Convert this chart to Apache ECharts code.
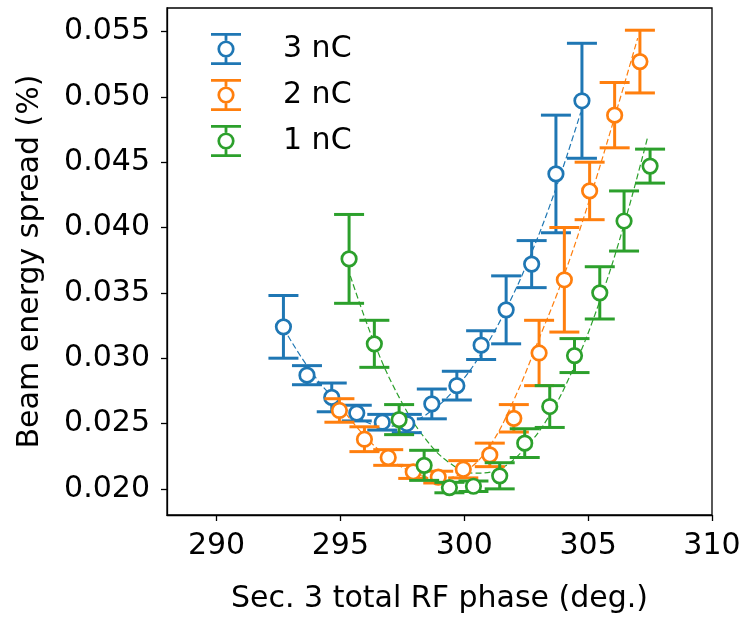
<!DOCTYPE html>
<html>
<head>
<meta charset="utf-8">
<script src="https://cdn.jsdelivr.net/npm/echarts@6/dist/echarts.min.js"></script>
<style>
html,body{margin:0;padding:0;background:#fff;}
#chart{width:748px;height:619px;}
</style>
</head>
<body>
<div id="chart"></div>
<script>
// ---- data ----
const seriesNames = ['3 nC', '2 nC', '1 nC'];
const colors = ['#1f77b4', '#ff7f0e', '#2ca02c'];

const blueX   = [292.7, 293.65, 294.65, 295.66, 296.69, 297.68, 298.69, 299.70, 300.68, 301.69, 302.72, 303.70, 304.75];
const blueY   = [0.0324, 0.0287, 0.0270, 0.0258, 0.0251, 0.0250, 0.0265, 0.0279, 0.0310, 0.0337, 0.0372, 0.0441, 0.0497];
const blueErr = [0.0024, 0.00073, 0.0011, 0.0006, 0.0006, 0.0007, 0.00114, 0.0011, 0.0011, 0.0026, 0.0018, 0.0045, 0.0044];

const orangeX   = [294.96, 295.97, 296.93, 297.94, 298.95, 299.96, 301.03, 302.0, 303.02, 304.04, 305.06, 306.07, 307.09];
const orangeY   = [0.0260, 0.0238, 0.0224, 0.0213, 0.0209, 0.0215, 0.0226, 0.0254, 0.0304, 0.0360, 0.0428, 0.0486, 0.0527];
const orangeErr = [0.0009, 0.00095, 0.0006, 0.0005, 0.00045, 0.00066, 0.0009, 0.00105, 0.0025, 0.0040, 0.0022, 0.0025, 0.0024];

const greenX   = [295.35, 296.37, 297.37, 298.38, 299.40, 300.37, 301.43, 302.44, 303.45, 304.45, 305.47, 306.45, 307.5];
const greenY   = [0.0376, 0.0311, 0.0253, 0.0218, 0.0201, 0.0202, 0.0210, 0.0235, 0.0263, 0.0302, 0.0350, 0.0405, 0.0447];
const greenErr = [0.0034, 0.0018, 0.00115, 0.00115, 0.0004, 0.0004, 0.0010, 0.0011, 0.0016, 0.0013, 0.0020, 0.0023, 0.0013];

// dashed fit curves
const blueFitX   = [292.7, 293.7, 294.7, 295.7, 296.7, 297.7, 298.7, 299.7, 300.7, 301.7, 302.7, 303.7, 304.7];
const blueFitY   = [0.0323, 0.0293, 0.0270, 0.0255, 0.0248, 0.0250, 0.0260, 0.0278, 0.0304, 0.0338, 0.0380, 0.0430, 0.0488];
const orangeFitX = [295, 296, 297, 298, 299, 300, 301, 302, 303, 304, 305, 306, 307];
const orangeFitY = [0.0263, 0.0240, 0.0223, 0.0212, 0.0208, 0.0213, 0.0232, 0.0268, 0.0314, 0.0362, 0.0418, 0.0480, 0.0545];
const greenFitX  = [295.4, 296.4, 297.4, 298.4, 299.4, 300.4, 301.4, 302.4, 303.4, 304.4, 305.4, 306.4, 307.4];
const greenFitY  = [0.0363, 0.0310, 0.0269, 0.0239, 0.0220, 0.0212, 0.0215, 0.0230, 0.0255, 0.0292, 0.0340, 0.0399, 0.0469];

const xTicks = [290, 295, 300, 305, 310];
const yTicks = [0.020, 0.025, 0.030, 0.035, 0.040, 0.045, 0.050, 0.055];

// ---- chart ----
const FONT = 'DejaVu Sans';
const FS = 30;
const groups = [
  {name: seriesNames[0], color: colors[0], x: blueX, y: blueY, e: blueErr, fx: blueFitX, fy: blueFitY},
  {name: seriesNames[1], color: colors[1], x: orangeX, y: orangeY, e: orangeErr, fx: orangeFitX, fy: orangeFitY},
  {name: seriesNames[2], color: colors[2], x: greenX, y: greenY, e: greenErr, fx: greenFitX, fy: greenFitY}
];

const CAP = 15, LW = 3;
function errRender(color) {
  return function (params, api) {
    const x = api.value(0), lo = api.value(1), hi = api.value(2);
    const pLo = api.coord([x, lo]);
    const pHi = api.coord([x, hi]);
    const st = {stroke: color, lineWidth: LW};
    return {
      type: 'group',
      children: [
        {type: 'line', shape: {x1: pLo[0], y1: pLo[1], x2: pHi[0], y2: pHi[1]}, style: st},
        {type: 'line', shape: {x1: pLo[0] - CAP, y1: pLo[1], x2: pLo[0] + CAP, y2: pLo[1]}, style: st},
        {type: 'line', shape: {x1: pHi[0] - CAP, y1: pHi[1], x2: pHi[0] + CAP, y2: pHi[1]}, style: st}
      ]
    };
  };
}

const series = [];
groups.forEach(function (g, i) {
  series.push({
    name: g.name + ' fit',
    type: 'line',
    data: g.fx.map(function (v, k) { return [v, g.fy[k]]; }),
    showSymbol: false,
    smooth: 0.4,
    lineStyle: {color: g.color, width: 1.2, type: [6, 3]},
    z: 5,
    silent: true
  });
});
groups.forEach(function (g, i) {
  series.push({
    name: g.name + ' err',
    type: 'custom',
    renderItem: errRender(g.color),
    encode: {x: 0, y: [1, 2]},
    data: g.x.map(function (v, k) { return [v, g.y[k] - g.e[k], g.y[k] + g.e[k]]; }),
    z: 10 + 2 * i,
    silent: true
  });
  series.push({
    name: g.name,
    type: 'scatter',
    data: g.x.map(function (v, k) { return [v, g.y[k]]; }),
    symbol: 'circle',
    symbolSize: 14.5,
    itemStyle: {color: '#ffffff', borderColor: g.color, borderWidth: 2.7, opacity: 1},
    z: 11 + 2 * i,
    silent: true
  });
});

// legend icon: errorbar glyph (caps, stems, hollow circle)
const iconPath = 'path://M0 0H30V2.8H0Z M0 29.2H30V32H0Z M13.6 2.8H16.4V7.5H13.6Z M13.6 24.5H16.4V29.2H13.6Z ' +
  'M6.4 16A8.6 8.6 0 1 0 23.6 16A8.6 8.6 0 1 0 6.4 16Z M9.1 16A5.9 5.9 0 1 1 20.9 16A5.9 5.9 0 1 1 9.1 16Z';

const option = {
  animation: false,
  backgroundColor: '#ffffff',
  textStyle: {fontFamily: FONT},
  grid: {left: 167, top: 8, right: 36, bottom: 100, show: true, borderColor: '#000', borderWidth: 1.3, backgroundColor: 'transparent'},
  legend: {
    left: 206, top: 28, orient: 'vertical',
    itemWidth: 30, itemHeight: 32, itemGap: 14,
    icon: iconPath,
    data: groups.map(function (g) {
      return {name: g.name, itemStyle: {color: g.color, borderWidth: 0}};
    }),
    textStyle: {fontFamily: FONT, fontSize: FS, color: '#000', padding: [0, 0, 0, 37]},
    selectedMode: false
  },
  xAxis: {
    type: 'value', min: 288, max: 310,
    name: 'Sec. 3 total RF phase (deg.)', nameLocation: 'middle', nameGap: 69,
    nameTextStyle: {fontFamily: FONT, fontSize: FS, color: '#000'},
    axisLine: {show: true, lineStyle: {color: '#000', width: 1.3}},
    axisTick: {show: true, inside: false, length: 6, lineStyle: {color: '#000', width: 1.3}, customValues: xTicks},
    axisLabel: {fontFamily: FONT, fontSize: FS, color: '#000', margin: 16, customValues: xTicks, formatter: function (v) { return String(v); }},
    splitLine: {show: false}
  },
  yAxis: {
    type: 'value', min: 0.0180, max: 0.0568,
    name: 'Beam energy spread (%)', nameLocation: 'middle', nameGap: 122, nameRotate: 90,
    nameTextStyle: {fontFamily: FONT, fontSize: FS, color: '#000'},
    axisLine: {show: true, lineStyle: {color: '#000', width: 1.3}},
    axisTick: {show: true, inside: false, length: 6, lineStyle: {color: '#000', width: 1.3}, customValues: yTicks},
    axisLabel: {fontFamily: FONT, fontSize: FS, color: '#000', margin: 17, customValues: yTicks, formatter: function (v) { return v.toFixed(3); }},
    splitLine: {show: false}
  },
  series: series
};

const chart = echarts.init(document.getElementById('chart'), null, {renderer: 'canvas'});
chart.setOption(option);
</script>
</body>
</html>
